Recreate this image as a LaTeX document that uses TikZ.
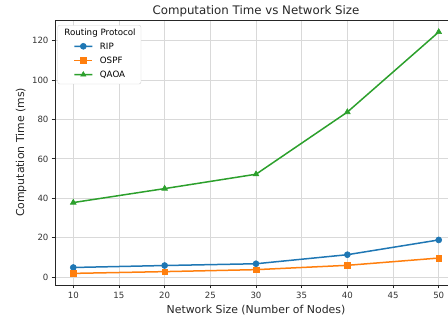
\documentclass[tikz,border=0pt]{standalone}
\usepackage{fontspec}
\setmainfont{DejaVu Sans}
\usepackage{pgfplots}
\pgfplotsset{compat=1.18}
\usetikzlibrary{calc}
\definecolor{ripblue}{HTML}{1F77B4}
\definecolor{ospforange}{HTML}{FF7F0E}
\definecolor{qaoagreen}{HTML}{2CA02C}

\begin{document}
\begin{tikzpicture}[lgd/.style={font=\fontsize{8.7}{10}\selectfont,inner sep=0pt},
  curve/.style={line width=1.5pt,mark options={line width=0.6pt}}]
\useasboundingbox (0,0) rectangle (448pt,321pt);
\begin{axis}[name=plot,at={(55pt,36pt)},anchor=south west,scale only axis,
  width=402pt,height=265pt,xmin=8,xmax=52,ymin=-4.1,ymax=130.6,
  xtick={10,15,...,50},ytick={0,20,...,120},
  grid=major,grid style={gray!30,line width=0.8pt},
  axis line style={line width=0.8pt,black!85},
  tick align=outside,major tick length=3.5pt,tick pos=left,
  tick style={black!85,line width=0.8pt},
  ticklabel style={font=\fontsize{8.6}{10}\selectfont,text=black!80,
    /pgf/number format/assume math mode=true},
  yticklabel style={xshift=0.5pt},
  xlabel={Network Size (Number of Nodes)},ylabel={Computation Time (ms)},
  every axis x label/.style={at={(axis description cs:0.5,0)},anchor=center,yshift=-25pt,
    font=\fontsize{10.9}{13}\selectfont,text=black!85},
  every axis y label/.style={at={(axis description cs:0,0.5)},rotate=90,anchor=center,yshift=34pt,
    font=\fontsize{10.9}{13}\selectfont,text=black!85},
  title={Computation Time vs Network Size},
  every axis title/.style={at={(axis description cs:0.5,1)},anchor=center,yshift=9pt,
    font=\fontsize{11.8}{14}\selectfont,text=black!85}]
\addplot[curve,ripblue,mark=*,mark size=3pt] coordinates {(10,4.8) (20,5.8) (30,6.7) (40,11.3) (50,18.8)};
\addplot[curve,ospforange,mark=square*,mark size=2.8pt] coordinates {(10,1.8) (20,2.7) (30,3.7) (40,5.9) (50,9.6)};
\addplot[curve,qaoagreen,mark=triangle*,mark size=3.3pt] coordinates {(10,37.8) (20,44.9) (30,52.2) (40,83.8) (50,124.5)};
\end{axis}
% legend
\draw[gray!35,fill=white,rounded corners=2pt] (57.7pt,237pt) rectangle (141pt,295.7pt);
\node[lgd] (lgtitle) at (100pt,288pt) {Routing Protocol};
\foreach \c/\m/\t [count=\i] in {ripblue/*/RIP,ospforange/square*/OSPF,qaoagreen/triangle*/QAOA}{
  \pgfmathsetmacro{\y}{274.7-(\i-1)*14.2}
  \coordinate (ls\i) at (74.3pt,\y pt);
  \coordinate (le\i) at (92.3pt,\y pt);
  \draw[curve,\c,mark=\m,mark size=3pt,mark indices={2}] plot coordinates {(ls\i) ($(ls\i)!0.5!(le\i)$) (le\i)};
  \node[lgd,anchor=west] (lg\i) at (99.7pt,\y pt) {\t};
}
\end{tikzpicture}
\end{document}
